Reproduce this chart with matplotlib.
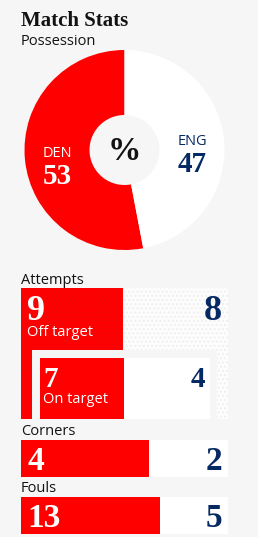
import numpy as np
import matplotlib

matplotlib.use("Agg")
import matplotlib.pyplot as plt
from matplotlib.patches import Rectangle, Wedge

# ── data ──────────────────────────────────────────────
teams = ["DEN", "ENG"]
possession = [53, 47]
off_target = [9, 8]
on_target = [7, 4]
corners = [4, 2]
fouls = [13, 5]

# ── style ─────────────────────────────────────────────
BG = "#f6f6f6"
RED = "#ff0000"
NAVY = "#052962"
INK = "#121212"
SERIF = "Liberation Serif"
SANS = "Open Sans"

W, H = 258, 537
fig = plt.figure(figsize=(W / 100, H / 100), dpi=100, facecolor=BG)
ax = fig.add_axes([0, 0, 1, 1])
ax.set_xlim(0, W)
ax.set_ylim(H, 0)
ax.axis("off")
ax.set_facecolor(BG)


def label(x, y, s, size=10.5, color=INK, **kw):
    ax.text(x, y, s, fontsize=size, color=color, family=SANS, va="baseline", **kw)


def number(x, y, s, size=26, color="white", **kw):
    ax.text(x, y, s, fontsize=size, color=color, family=SERIF, fontweight="bold",
            va="baseline", **kw)


# ── title ─────────────────────────────────────────────
ax.text(21, 26, "Match Stats", fontsize=15, color=INK, family=SERIF,
        fontweight="bold", va="baseline")
label(21, 45, "Possession")

# ── possession donut ──────────────────────────────────
cx, cy, r_out, r_in = 124.5, 150, 100, 35
share = np.array(possession) / sum(possession)
# y axis is inverted: decreasing theta runs anticlockwise on screen
start = -90
end_den = start - share[0] * 360
ax.add_patch(Wedge((cx, cy), r_out, end_den, start, width=r_out - r_in,
                   facecolor=RED, edgecolor="none"))
ax.add_patch(Wedge((cx, cy), r_out, start, end_den + 360, width=r_out - r_in,
                   facecolor="white", edgecolor="none"))
ax.text(cx, 152, "%", fontsize=24, color=INK, family=SERIF, fontweight="bold",
        ha="center", va="center")
label(57.5, 157, teams[0], color="white", ha="center")
number(57.5, 184, str(possession[0]), size=21, ha="center")
label(192.5, 145, teams[1], color=NAVY, ha="center")
number(192.5, 172, str(possession[1]), size=21, color=NAVY, ha="center")

# ── attempts ──────────────────────────────────────────
label(21, 284, "Attempts")
x0, x1 = 21, 228
scale = 192
y_top, y_bot = 288, 419
ax.add_patch(Rectangle((x0, y_top), x1 - x0, y_bot - y_top, facecolor="#fdfdfd",
                       edgecolor="#efefef", hatch="....", linewidth=0))
ax.add_patch(Rectangle((x0, y_top), off_target[0] / sum(off_target) * scale,
                       y_bot - y_top, facecolor=RED, edgecolor="#f00808",
                       hatch="....", linewidth=0))
number(27, 320, str(off_target[0]))
number(222, 320, str(off_target[1]), color=NAVY, ha="right")
label(27, 336, "Off target", color="white")

# inner box: on target
ax.add_patch(Rectangle((32, 350), 217 - 32, y_bot - 350, facecolor=BG,
                       edgecolor="none"))
ax.add_patch(Rectangle((40, 358), 210 - 40, y_bot - 358, facecolor="white",
                       edgecolor="none"))
ax.add_patch(Rectangle((40, 358), on_target[0] / sum(on_target) * 132,
                       y_bot - 358, facecolor=RED, edgecolor="none"))
number(43, 387, str(on_target[0]), size=21)
number(205, 387, str(on_target[1]), size=21, color=NAVY, ha="right")
label(43, 403, "On target", color="white")

# ── corners & fouls ───────────────────────────────────
for name, vals, lab_y, bar_y in [("Corners", corners, 435, 440),
                                 ("Fouls", fouls, 492, 497)]:
    label(21, lab_y, name)
    ax.add_patch(Rectangle((x0, bar_y), x1 - x0, 37, facecolor="white",
                           edgecolor="none"))
    ax.add_patch(Rectangle((x0, bar_y), vals[0] / sum(vals) * scale, 37,
                           facecolor=RED, edgecolor="none"))
    number(27, bar_y + 30, str(vals[0]), size=24)
    number(222, bar_y + 30, str(vals[1]), size=24, color=NAVY, ha="right")

fig.savefig("out.png", dpi=100, facecolor=BG)
